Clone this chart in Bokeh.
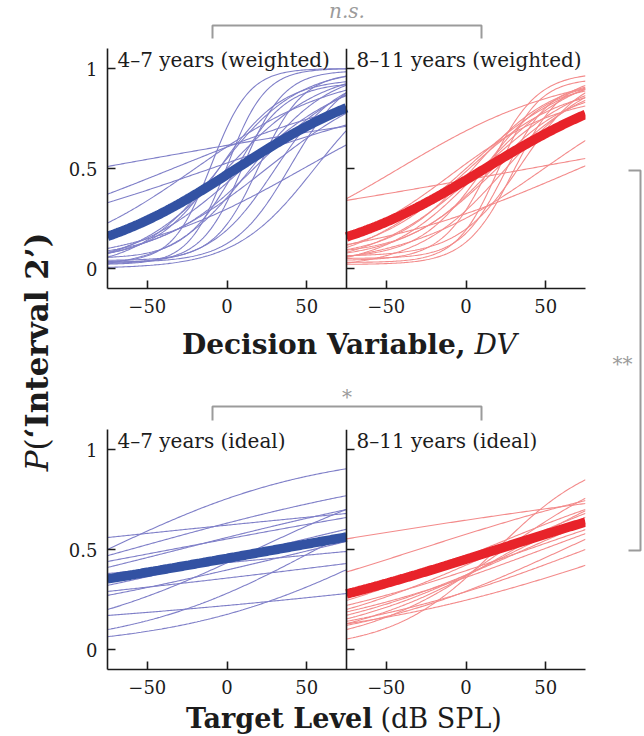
import numpy as np
from bokeh.plotting import figure
from bokeh.models import Range1d, FixedTicker, Span, Label
from bokeh.layouts import row, column
from bokeh.embed import file_html
from bokeh.resources import INLINE

# ---------------- data ----------------
# Each curve is a fitted logistic psychometric function:
#   P(x) = floor + (ceil - floor) / (1 + exp(-(x - x50) / spread))
X_TICKS = [-50, 0, 50]
Y_TICKS = [0, 0.5, 1]
Y_TICK_LABELS = ["0", "0.5", "1"]
PANEL_TITLES = ["4–7 years (weighted)", "8–11 years (weighted)",
                "4–7 years (ideal)", "8–11 years (ideal)"]

YOUNG_W_X50 = [-82, -34, -10, -20, 48, 25, 10, 0, 15, -5, -10, 0, 10, 20, 5, 30, 40, -5, 55, 20]
YOUNG_W_SPREAD = [174, 78, 91, 45, 56, 40, 35, 30, 25, 25, 12, 12, 13, 14, 16, 20, 18, 20, 25, 30]
YOUNG_W_FLOOR = [0, 0, 0, 0, 0, 0, 0, 0, 0, 0, .03, .02, .03, .04, .05, .02, .03, .05, 0, .05]
YOUNG_W_CEIL = [1, 1, 1, 1, 1, 1, 1, 1, 1, 1, 1, 1, .99, .98, .93, .97, 1, .95, 1, 1]
YOUNG_W_MEAN = [6, 49]          # x50, spread

OLD_W_X50 = [-42, 40, 71, 49, 15, 20, 25, 10, 5, 15, 30, 0, 20, -10, 35, 10, 25, 10, 0]
OLD_W_SPREAD = [53, 174, 73, 45, 15, 13, 14, 20, 25, 25, 15, 30, 30, 35, 20, 35, 28, 30, 35]
OLD_W_FLOOR = [0, 0, 0, 0, .04, .03, .05, .05, .06, .07, .02, .05, .04, .05, .06, 0, 0, 0, 0]
OLD_W_CEIL = [1, 1, 1, 1, .98, .95, .93, .92, .95, .90, .96, .92, .97, .88, .99, 1, 1, 1, 1]
OLD_W_MEAN = [12, 52]

YOUNG_I_X50 = [-75, -145, -61, -30, 88, 22, 144, 54, 18, 296, 56, 102, -35]
YOUNG_I_SPREAD = [67, 292, 113, 124, 333, 129, 245, 130, 67, 234, 59.5, 66, 166]
YOUNG_I_MEAN = [31, 175]

OLD_I_X50 = [19, -116, -30, 10.5, 38.7, 22, 48, 37, 33, 75, 105, 61, 24, 30]
OLD_I_SPREAD = [32.5, 192, 98, 76, 90, 70, 84, 71, 63, 83, 94, 68.5, 45, 55]
OLD_I_MEAN = [19.4, 98.8]

# ---------------- style ----------------
SERIF = "DejaVu Serif"
INK = "#1c1c1c"
GREY = "#9b9b9b"
BLUE_THIN = "#7f7fc8"
BLUE_MEAN = "#3352a3"
RED_THIN = "#f38b8b"
RED_MEAN = "#e8232a"

X_LO, X_HI = -75, 75
XS = np.linspace(X_LO, X_HI, 151)

# page geometry (pixels)
LEFT_W, COL_W, RIGHT_W = 58, 535, 49
BORDER_L, BORDER_R = 49, 8
FRAME_X0 = LEFT_W + BORDER_L
FRAME_X1 = LEFT_W + COL_W - BORDER_R
TOTAL_H = 735


def psychometric(x50, spread, floor=None, ceil=None):
    n = len(x50)
    floor = floor if floor is not None else [0] * n
    ceil = ceil if ceil is not None else [1] * n
    ys = [f + (c - f) / (1 + np.exp(-(XS - m) / s))
          for m, s, f, c in zip(x50, spread, floor, ceil)]
    return [XS] * n, ys


def canvas(width, x0, x1, y0, y1):
    """Blank drawing area whose data coordinates are page pixels (y negated)."""
    p = figure(width=width, height=y1 - y0, x_range=Range1d(x0, x1),
               y_range=Range1d(-y1, -y0), x_axis_type=None, y_axis_type=None,
               toolbar_location=None, output_backend="svg", min_border=0,
               outline_line_color=None)
    p.min_border_left = p.min_border_right = p.min_border_top = p.min_border_bottom = 0
    return p


def col_canvas(y0, y1):
    # frames inside the column are aligned with the panel frames
    p = canvas(COL_W, FRAME_X0, FRAME_X1, y0, y1)
    p.min_border_left, p.min_border_right = BORDER_L, BORDER_R
    return p


def bracket(p, xs, ys):
    p.line(xs, [-v for v in ys], line_color=GREY, line_width=2)


def text(p, x, y, s, size, color=INK, style="normal", align="center", angle=0):
    p.add_layout(Label(x=x, y=-y, text=s, text_font=SERIF, text_font_size=size,
                       text_font_style=style, text_color=color, text_align=align,
                       text_baseline="middle", angle=angle))


SHIFT = (X_HI - X_LO)  # right panel offset on the shared frame axis


def panel_row(left, right, titles, height, border_bottom):
    p = figure(width=COL_W, height=height, x_range=Range1d(X_LO, X_HI + SHIFT),
               y_range=Range1d(-0.1, 1.1), toolbar_location=None, output_backend="svg",
               min_border_left=BORDER_L, min_border_right=BORDER_R, min_border_top=0,
               min_border_bottom=border_bottom, outline_line_color=None)
    p.extra_x_ranges = {"right": Range1d(X_LO - SHIFT, X_HI)}
    p.grid.visible = False

    for ax in p.axis:
        ax.axis_line_color = INK
        ax.axis_line_width = 1.6
        ax.major_tick_line_color = INK
        ax.major_tick_line_width = 1.6
        ax.major_tick_in = 8
        ax.major_tick_out = 0
        ax.minor_tick_line_color = None
        ax.major_label_text_font = SERIF
        ax.major_label_text_font_size = "18px"
        ax.major_label_text_color = INK
    p.xaxis.major_label_standoff = 10
    p.yaxis.major_label_standoff = 10

    def lab(t):
        return ("−" + str(-t)) if t < 0 else str(t)

    xt = X_TICKS + [t + SHIFT for t in X_TICKS]
    p.xaxis.ticker = FixedTicker(ticks=xt)
    overrides = {t: lab(t) for t in X_TICKS}
    overrides.update({t + SHIFT: lab(t) for t in X_TICKS})
    p.xaxis.major_label_overrides = overrides
    p.yaxis.ticker = FixedTicker(ticks=Y_TICKS)
    p.yaxis.major_label_overrides = dict(zip(Y_TICKS, Y_TICK_LABELS))

    # spine of the right-hand panel + its inward ticks
    p.add_layout(Span(location=X_HI, dimension="height", line_color=INK, line_width=1.6))
    p.ray(x=[X_HI] * len(Y_TICKS), y=Y_TICKS, length=8, length_units="screen", angle=0,
          line_color=INK, line_width=1.6)

    for (xs, ys, m, thin, thick), rng in ((left, "default"), (right, "right")):
        kw = {} if rng == "default" else {"x_range_name": "right"}
        p.multi_line(xs, ys, line_color=thin, line_width=1.1, **kw)
        p.line(XS, 1 / (1 + np.exp(-(XS - m[0]) / m[1])), line_color=thick,
               line_width=9.5, **kw)

    for title, rng in zip(titles, ("default", "right")):
        p.add_layout(Label(x=X_LO, y=1.043, x_offset=10, text=title, x_range_name=rng,
                           text_font=SERIF, text_font_size="20px", text_color=INK,
                           text_baseline="middle", text_align="left"))
    return p


top = panel_row(
    (*psychometric(YOUNG_W_X50, YOUNG_W_SPREAD, YOUNG_W_FLOOR, YOUNG_W_CEIL), YOUNG_W_MEAN, BLUE_THIN, BLUE_MEAN),
    (*psychometric(OLD_W_X50, OLD_W_SPREAD, OLD_W_FLOOR, OLD_W_CEIL), OLD_W_MEAN, RED_THIN, RED_MEAN),
    PANEL_TITLES[:2], 276, 36)
bottom = panel_row(
    (*psychometric(YOUNG_I_X50, YOUNG_I_SPREAD), YOUNG_I_MEAN, BLUE_THIN, BLUE_MEAN),
    (*psychometric(OLD_I_X50, OLD_I_SPREAD), OLD_I_MEAN, RED_THIN, RED_MEAN),
    PANEL_TITLES[2:], 272, 32)

# ---------------- annotation strips (page-pixel coordinates) ----------------
ns = col_canvas(0, 48)
bracket(ns, [212, 212, 481, 481], [38, 25, 25, 38])
text(ns, 346.5, 10, "n.s.", "20px", GREY, "italic")

mid = col_canvas(324, 429)
text(mid, 465, 343.5, "Decision Variable,", "28px", style="bold", align="right")
text(mid, 474, 343.5, "DV", "28px", style="italic", align="left")
bracket(mid, [212, 212, 481, 481], [420, 406, 406, 420])
text(mid, 346.5, 396.5, "*", "20px", GREY)

bot = col_canvas(701, TOTAL_H)
text(bot, 372, 718, "Target Level", "27px", style="bold", align="right")
text(bot, 380, 718, "(dB SPL)", "27px", align="left")

ylab = canvas(LEFT_W, 0, LEFT_W, 0, TOTAL_H)
ANG = np.pi / 2
A = 438
text(ylab, 36, A, "(", "31px", align="right", angle=ANG)
text(ylab, 36, A + 12, "P", "31px", style="italic", align="right", angle=ANG)
text(ylab, 36, A, "‘Interval 2’)", "31px", style="bold", align="left", angle=ANG)

X_R0 = LEFT_W + COL_W
rbr = canvas(RIGHT_W, X_R0, X_R0 + RIGHT_W, 0, TOTAL_H)
bracket(rbr, [628, 640, 640, 628], [170, 170, 550, 550])
text(rbr, 622, 363, "**", "20px", GREY)

layout = row(ylab, column(ns, top, mid, bottom, bot), rbr)
open("out.html", "w").write(file_html(layout, INLINE))
